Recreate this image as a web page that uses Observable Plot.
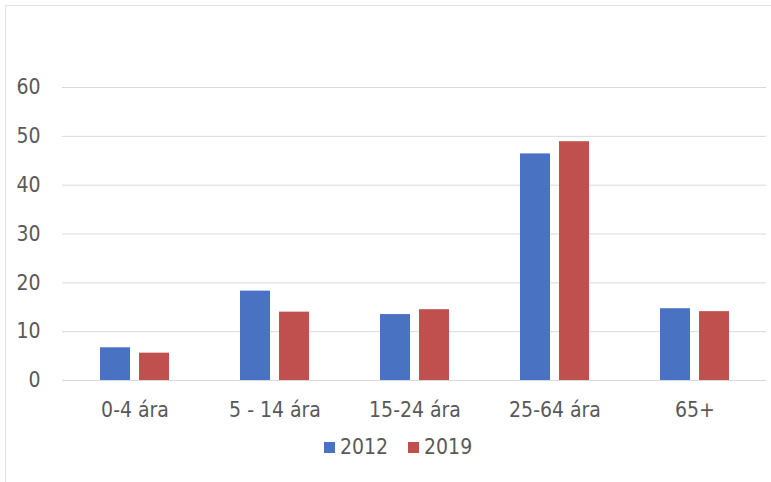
<!DOCTYPE html>
<html>
<head>
<meta charset="utf-8">
<script src="https://cdn.jsdelivr.net/npm/d3@7"></script>
<script src="https://cdn.jsdelivr.net/npm/@observablehq/plot@0.6"></script>
<style>
  html, body { margin: 0; padding: 0; background: #fff; }
  #wrap { position: relative; width: 771px; height: 482px; overflow: hidden;
          font-family: "DejaVu Sans Condensed", "Liberation Sans Narrow", "DejaVu Sans", sans-serif; }
  #frame { position: absolute; left: 5px; top: 5px; width: 800px; height: 500px;
           border-left: 1px solid #e3e3e3; border-top: 1px solid #e3e3e3; pointer-events: none; }
  .layer { position: absolute; left: 0; top: 0; }
  #legend { position: absolute; left: 0; width: 800px; top: 435px; display: flex; justify-content: flex-start;
            padding-left: 324px; box-sizing: border-box; font-size: 21px; color: #595959; }
  .item { display: flex; align-items: center; margin-right: 20px; }
  .sw { width: 11px; height: 11px; margin-right: 5px; }
</style>
</head>
<body>
<div id="wrap">
  <div id="frame"></div>
  <div id="grid" class="layer"></div>
  <div id="chart" class="layer"></div>
  <div id="legend"></div>
</div>
<script>
const categories = ["0-4 ára", "5 - 14 ára", "15-24 ára", "25-64 ára", "65+"];
const years = ["2012", "2019"];
const values2012 = [6.7, 18.3, 13.5, 46.4, 14.7];
const values2019 = [5.6, 14.0, 14.5, 48.9, 14.1];
const yTicks = [0, 10, 20, 30, 40, 50, 60];
const colors = ["#4a72c2", "#c0504d"];

const data = [];
categories.forEach((c, i) => {
  data.push({cat: c, year: years[0], value: values2012[i]});
  data.push({cat: c, year: years[1], value: values2019[i]});
});

const common = {
  width: 771,
  height: 430,
  marginTop: 87,
  marginBottom: 50,
  marginLeft: 62,
  marginRight: 5,
  style: {fontFamily: '"DejaVu Sans Condensed", "Liberation Sans Narrow", "DejaVu Sans", sans-serif', fontSize: "21px", color: "#595959", background: "transparent"},
  y: {domain: [0, 60], ticks: yTicks, label: null, axis: null}
};

// Layer 1: full-width gridlines and y axis
const gridPlot = Plot.plot({
  ...common,
  marks: [
    Plot.ruleY(yTicks, {stroke: "#d9d9d9", strokeOpacity: 1, strokeWidth: 1}),
    Plot.axisY(yTicks, {tickSize: 0, tickPadding: 22, label: null, fill: "#595959", fontSize: 21})
  ]
});
document.getElementById("grid").appendChild(gridPlot);

// Layer 2: grouped bars and category axis
const barPlot = Plot.plot({
  ...common,
  fx: {domain: categories, paddingInner: 0.495, paddingOuter: 0.2475, label: null, axis: null},
  x: {domain: years, paddingInner: 0.22, paddingOuter: 0, axis: null},
  color: {domain: years, range: colors},
  marks: [
    Plot.barY(data, {fx: "cat", x: "year", y: "value", fill: "year"}),
    Plot.axisFx({anchor: "bottom", tickSize: 0, tickPadding: 22, label: null, fill: "#595959", fontSize: 21})
  ]
});
document.getElementById("chart").appendChild(barPlot);

const legend = document.getElementById("legend");
years.forEach((y, i) => {
  const it = document.createElement("div");
  it.className = "item";
  const sw = document.createElement("div");
  sw.className = "sw";
  sw.style.background = colors[i];
  const t = document.createElement("span");
  t.textContent = y;
  it.appendChild(sw);
  it.appendChild(t);
  legend.appendChild(it);
});
</script>
</body>
</html>
